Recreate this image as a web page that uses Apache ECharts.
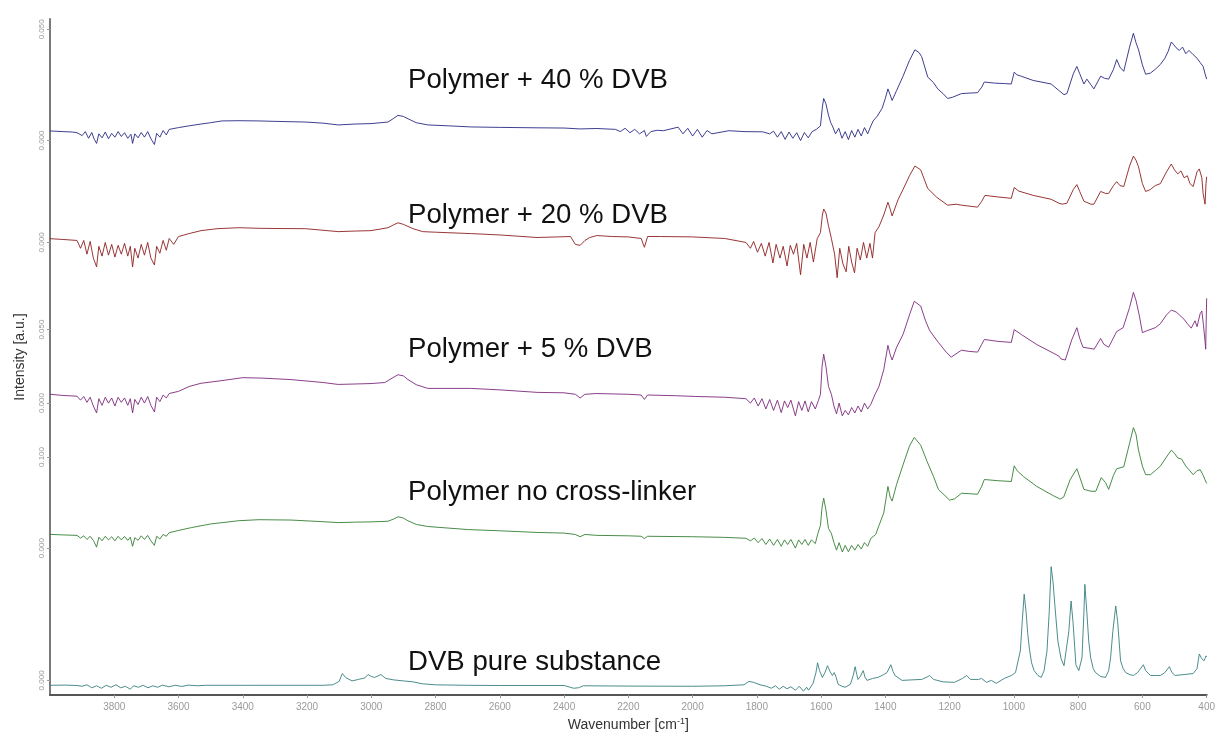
<!DOCTYPE html>
<html>
<head>
<meta charset="utf-8">
<script src="https://cdn.jsdelivr.net/npm/echarts@6/dist/echarts.min.js"></script>
<style>
  html, body { margin: 0; padding: 0; background: #ffffff; }
  #chart { width: 1218px; height: 737px; }
</style>
</head>
<body>
<div id="chart"></div>
<script>
// FTIR spectra, stacked; each trace has its own intensity scale.
const traceNames = [
  'Polymer + 40 % DVB',
  'Polymer + 20 % DVB',
  'Polymer + 5 % DVB',
  'Polymer no cross-linker',
  'DVB pure substance'
];

// [wavenumber cm-1, intensity a.u.]
const dvb40 = [
  [4000,0.0043],[3960,0.0040],[3930,0.0038],[3916,0.0035],[3900,0.0022],[3890,0.0040],[3880,0.0010],[3870,0.0036],
  [3862,0.0005],[3855,-0.0013],[3848,0.0030],[3838,0.0012],[3828,0.0038],[3818,0.0008],[3808,0.0032],[3798,0.0015],
  [3788,0.0040],[3778,0.0018],[3768,0.0035],[3758,0.0010],[3748,0.0028],[3743,-0.0013],[3736,0.0030],[3726,0.0012],
  [3716,0.0036],[3706,0.0015],[3696,0.0040],[3686,0.0008],[3675,-0.0018],[3668,0.0032],[3658,0.0015],[3648,0.0045],
  [3638,0.0025],[3629,0.0050],[3600,0.0058],[3567,0.0066],[3530,0.0074],[3500,0.0080],[3465,0.0088],[3412,0.0089],
  [3350,0.0088],[3300,0.0086],[3205,0.0083],[3150,0.0078],[3103,0.0070],[3050,0.0074],[3001,0.0076],[2948,0.0083],
  [2930,0.0100],[2917,0.0113],[2900,0.0108],[2886,0.0098],[2860,0.0080],[2824,0.0070],[2760,0.0066],[2691,0.0061],
  [2600,0.0059],[2484,0.0057],[2400,0.0056],[2350,0.0052],[2298,0.0054],[2240,0.0050],[2225,0.0040],[2210,0.0055],
  [2195,0.0035],[2180,0.0050],[2165,0.0030],[2150,0.0045],[2144,0.0018],[2130,0.0040],[2110,0.0046],[2091,0.0044],
  [2045,0.0060],[2030,0.0030],[2015,0.0055],[2000,0.0020],[1985,0.0050],[1970,0.0015],[1955,0.0045],[1940,0.0030],
  [1887,0.0044],[1840,0.0040],[1782,0.0039],[1760,0.0030],[1748,0.0042],[1736,0.0015],[1724,0.0040],[1712,0.0005],
  [1700,0.0038],[1688,0.0010],[1676,0.0035],[1664,0.0000],[1652,0.0036],[1640,0.0012],[1628,0.0040],[1615,0.0050],
  [1602,0.0066],[1596,0.0150],[1592,0.0189],[1585,0.0165],[1577,0.0114],[1570,0.0080],[1565,0.0066],[1555,0.0030],
  [1545,0.0055],[1535,0.0010],[1525,0.0040],[1515,0.0004],[1505,0.0045],[1495,0.0015],[1485,0.0050],[1475,0.0020],
  [1465,0.0058],[1455,0.0030],[1445,0.0066],[1438,0.0088],[1425,0.0110],[1410,0.0145],[1400,0.0190],[1392,0.0232],
  [1385,0.0205],[1379,0.0180],[1365,0.0225],[1345,0.0289],[1325,0.0360],[1308,0.0408],[1295,0.0395],[1287,0.0377],
  [1268,0.0285],[1250,0.0260],[1237,0.0232],[1220,0.0210],[1206,0.0189],[1190,0.0195],[1163,0.0211],[1140,0.0213],
  [1113,0.0215],[1100,0.0240],[1092,0.0263],[1060,0.0258],[1030,0.0256],[1008,0.0254],[999,0.0307],[990,0.0295],
  [977,0.0289],[940,0.0270],[884,0.0254],[860,0.0225],[844,0.0206],[835,0.0211],[815,0.0300],[804,0.0333],
  [795,0.0300],[782,0.0254],[773,0.0276],[760,0.0250],[751,0.0232],[730,0.0289],[718,0.0280],[705,0.0276],
  [690,0.0320],[680,0.0364],[670,0.0330],[658,0.0311],[640,0.0420],[628,0.0482],[620,0.0440],[612,0.0408],
  [600,0.0340],[590,0.0298],[575,0.0303],[560,0.0320],[544,0.0342],[530,0.0370],[520,0.0400],[510,0.0443],
  [502,0.0430],[495,0.0417],[485,0.0405],[475,0.0420],[465,0.0390],[455,0.0405],[442,0.0386],[430,0.0370],
  [420,0.0350],[411,0.0333],[405,0.0300],[400,0.0276]
];

const dvb20 = [
  [4000,0.0019],[3960,0.0015],[3916,0.0010],[3905,-0.0030],[3895,0.0010],[3885,-0.0060],[3875,0.0005],[3865,-0.0080],
  [3855,-0.0125],[3848,-0.0020],[3838,-0.0070],[3828,0.0000],[3818,-0.0065],[3808,-0.0010],[3798,-0.0075],[3788,-0.0015],
  [3778,-0.0060],[3768,-0.0005],[3758,-0.0070],[3750,-0.0020],[3743,-0.0125],[3736,-0.0030],[3726,-0.0080],[3716,-0.0010],
  [3706,-0.0065],[3696,0.0000],[3686,-0.0080],[3675,-0.0115],[3668,-0.0020],[3658,-0.0055],[3648,0.0010],[3638,-0.0040],
  [3629,0.0020],[3615,-0.0010],[3600,0.0030],[3567,0.0045],[3530,0.0060],[3480,0.0070],[3412,0.0075],[3350,0.0072],
  [3300,0.0071],[3205,0.0070],[3150,0.0062],[3103,0.0055],[3050,0.0058],[3001,0.0060],[2948,0.0075],[2930,0.0090],
  [2917,0.0100],[2900,0.0092],[2870,0.0070],[2840,0.0055],[2800,0.0052],[2691,0.0045],[2600,0.0038],[2484,0.0025],
  [2420,0.0028],[2380,0.0030],[2365,-0.0010],[2350,-0.0015],[2335,0.0010],[2320,0.0025],[2298,0.0035],[2250,0.0030],
  [2200,0.0028],[2160,0.0020],[2150,-0.0025],[2140,0.0030],[2100,0.0030],[2000,0.0028],[1900,0.0020],[1834,0.0000],
  [1820,-0.0030],[1810,0.0005],[1798,-0.0050],[1786,-0.0005],[1774,-0.0070],[1762,0.0000],[1750,-0.0105],[1740,-0.0010],
  [1728,-0.0080],[1718,-0.0020],[1706,-0.0120],[1696,-0.0015],[1686,-0.0060],[1676,-0.0005],[1664,-0.0165],[1654,-0.0010],
  [1644,-0.0080],[1634,0.0000],[1624,-0.0100],[1612,0.0020],[1602,0.0050],[1596,0.0140],[1592,0.0170],[1585,0.0150],
  [1577,0.0085],[1568,0.0020],[1558,-0.0060],[1550,-0.0180],[1542,-0.0030],[1532,-0.0110],[1522,-0.0150],[1514,-0.0020],
  [1505,-0.0100],[1496,-0.0155],[1488,-0.0030],[1478,-0.0090],[1468,0.0000],[1458,-0.0080],[1448,-0.0005],[1440,-0.0080],
  [1432,0.0050],[1420,0.0080],[1405,0.0140],[1392,0.0205],[1385,0.0170],[1379,0.0135],[1360,0.0220],[1345,0.0270],
  [1325,0.0340],[1308,0.0390],[1290,0.0370],[1268,0.0275],[1240,0.0230],[1206,0.0190],[1180,0.0195],[1163,0.0190],
  [1113,0.0180],[1100,0.0210],[1090,0.0240],[1050,0.0232],[1008,0.0225],[999,0.0280],[985,0.0262],[940,0.0240],
  [884,0.0220],[860,0.0200],[850,0.0195],[835,0.0200],[815,0.0270],[804,0.0295],[795,0.0260],[782,0.0210],
  [760,0.0195],[751,0.0195],[730,0.0260],[715,0.0250],[705,0.0250],[690,0.0290],[680,0.0310],[670,0.0290],
  [658,0.0285],[640,0.0390],[628,0.0440],[620,0.0420],[612,0.0385],[600,0.0300],[590,0.0260],[575,0.0270],
  [560,0.0290],[544,0.0300],[525,0.0360],[510,0.0400],[500,0.0370],[490,0.0350],[480,0.0365],[470,0.0330],
  [460,0.0340],[452,0.0300],[442,0.0285],[430,0.0360],[423,0.0375],[415,0.0330],[411,0.0250],[405,0.0195],
  [402,0.0300],[400,0.0335]
];

const dvb5 = [
  [4000,0.0060],[3960,0.0052],[3916,0.0047],[3905,0.0020],[3895,0.0045],[3885,0.0005],[3875,0.0040],[3865,-0.0020],
  [3855,-0.0067],[3848,0.0030],[3838,-0.0015],[3828,0.0040],[3818,0.0000],[3808,0.0035],[3798,-0.0020],[3788,0.0040],
  [3778,0.0005],[3768,0.0035],[3758,-0.0015],[3750,0.0030],[3743,-0.0067],[3736,0.0025],[3726,-0.0010],[3716,0.0040],
  [3706,0.0000],[3696,0.0045],[3686,-0.0015],[3675,-0.0060],[3668,0.0040],[3658,0.0010],[3648,0.0055],[3638,0.0035],
  [3629,0.0065],[3600,0.0080],[3567,0.0113],[3530,0.0135],[3465,0.0153],[3400,0.0173],[3340,0.0170],[3250,0.0160],
  [3150,0.0140],[3103,0.0127],[3050,0.0130],[3001,0.0133],[2958,0.0140],[2935,0.0170],[2917,0.0193],[2900,0.0185],
  [2886,0.0160],[2860,0.0125],[2824,0.0100],[2691,0.0100],[2600,0.0090],[2484,0.0073],[2400,0.0070],[2365,0.0060],
  [2350,0.0035],[2335,0.0060],[2300,0.0065],[2200,0.0060],[2160,0.0055],[2150,0.0025],[2140,0.0055],[2050,0.0050],
  [1990,0.0045],[1900,0.0040],[1834,0.0030],[1820,0.0000],[1808,0.0035],[1796,-0.0020],[1784,0.0030],[1772,-0.0040],
  [1760,0.0025],[1748,-0.0050],[1736,0.0020],[1724,-0.0065],[1714,0.0015],[1704,-0.0030],[1694,0.0020],[1680,-0.0087],
  [1670,0.0010],[1660,-0.0050],[1650,0.0015],[1640,-0.0060],[1630,0.0010],[1618,-0.0040],[1608,0.0020],[1602,0.0060],
  [1597,0.0250],[1592,0.0333],[1585,0.0250],[1577,0.0113],[1568,0.0060],[1560,-0.0020],[1552,-0.0073],[1544,0.0000],
  [1534,-0.0087],[1525,-0.0050],[1515,-0.0080],[1505,-0.0030],[1495,-0.0067],[1485,-0.0020],[1475,-0.0060],[1465,0.0000],
  [1455,-0.0040],[1445,-0.0007],[1432,0.0060],[1420,0.0113],[1405,0.0227],[1392,0.0393],[1385,0.0330],[1379,0.0293],
  [1365,0.0380],[1345,0.0467],[1325,0.0600],[1310,0.0693],[1290,0.0660],[1275,0.0560],[1262,0.0493],[1235,0.0413],
  [1210,0.0345],[1195,0.0313],[1163,0.0360],[1140,0.0352],[1113,0.0347],[1100,0.0400],[1092,0.0433],[1050,0.0420],
  [1008,0.0413],[999,0.0500],[977,0.0467],[930,0.0400],[860,0.0320],[853,0.0300],[840,0.0293],[820,0.0430],
  [804,0.0513],[795,0.0440],[785,0.0380],[750,0.0367],[730,0.0440],[720,0.0400],[705,0.0380],[680,0.0487],
  [660,0.0513],[640,0.0650],[628,0.0753],[620,0.0700],[610,0.0600],[600,0.0480],[585,0.0493],[560,0.0513],
  [544,0.0540],[525,0.0600],[510,0.0633],[495,0.0620],[485,0.0600],[470,0.0570],[460,0.0540],[448,0.0510],
  [436,0.0560],[430,0.0520],[420,0.0610],[415,0.0627],[410,0.0533],[405,0.0420],[403,0.0367],[401,0.0600],
  [400,0.0713]
];

const noCrossLinker = [
  [4000,0.0151],[3960,0.0145],[3916,0.0140],[3905,0.0110],[3895,0.0135],[3885,0.0095],[3875,0.0130],[3865,0.0085],
  [3855,0.0011],[3848,0.0120],[3838,0.0080],[3828,0.0130],[3818,0.0090],[3808,0.0125],[3798,0.0080],[3788,0.0130],
  [3778,0.0090],[3768,0.0128],[3758,0.0085],[3750,0.0120],[3743,0.0020],[3736,0.0115],[3726,0.0085],[3716,0.0135],
  [3706,0.0095],[3696,0.0140],[3686,0.0080],[3675,0.0030],[3668,0.0130],[3658,0.0100],[3648,0.0150],[3638,0.0130],
  [3629,0.0170],[3600,0.0194],[3560,0.0225],[3500,0.0265],[3412,0.0301],[3350,0.0312],[3250,0.0308],[3150,0.0290],
  [3103,0.0280],[3050,0.0285],[3001,0.0288],[2948,0.0295],[2930,0.0320],[2917,0.0344],[2900,0.0330],[2886,0.0300],
  [2860,0.0260],[2824,0.0237],[2700,0.0204],[2600,0.0190],[2484,0.0172],[2400,0.0165],[2365,0.0150],[2350,0.0125],
  [2335,0.0150],[2298,0.0140],[2200,0.0135],[2160,0.0130],[2150,0.0105],[2140,0.0130],[2000,0.0125],[1900,0.0118],
  [1834,0.0108],[1820,0.0080],[1808,0.0110],[1796,0.0060],[1784,0.0105],[1772,0.0040],[1760,0.0100],[1748,0.0030],
  [1736,0.0095],[1724,0.0020],[1714,0.0090],[1704,0.0040],[1694,0.0095],[1680,0.0000],[1670,0.0090],[1660,0.0040],
  [1650,0.0095],[1640,0.0030],[1630,0.0090],[1618,0.0050],[1610,0.0160],[1602,0.0250],[1597,0.0450],[1592,0.0548],
  [1585,0.0420],[1577,0.0215],[1568,0.0161],[1560,0.0060],[1552,-0.0022],[1544,0.0060],[1534,-0.0043],[1525,0.0030],
  [1515,-0.0040],[1505,0.0030],[1495,-0.0022],[1485,0.0040],[1475,-0.0010],[1465,0.0060],[1455,0.0020],[1445,0.0108],
  [1430,0.0150],[1420,0.0247],[1405,0.0387],[1392,0.0677],[1385,0.0560],[1379,0.0516],[1365,0.0700],[1345,0.0914],
  [1325,0.1120],[1310,0.1215],[1290,0.1129],[1270,0.0950],[1250,0.0785],[1235,0.0645],[1200,0.0527],[1185,0.0540],
  [1163,0.0602],[1140,0.0598],[1113,0.0591],[1100,0.0680],[1092,0.0753],[1050,0.0740],[1008,0.0731],[999,0.0903],
  [990,0.0850],[970,0.0785],[930,0.0680],[880,0.0580],[856,0.0538],[845,0.0560],[825,0.0750],[804,0.0871],
  [795,0.0780],[782,0.0645],[760,0.0624],[745,0.0624],[728,0.0774],[715,0.0720],[705,0.0645],[690,0.0800],
  [680,0.0871],[658,0.0892],[640,0.1150],[628,0.1322],[620,0.1250],[612,0.1075],[600,0.0900],[590,0.0806],
  [575,0.0806],[560,0.0850],[544,0.0900],[525,0.1000],[510,0.1075],[500,0.1040],[490,0.0990],[478,0.0978],
  [465,0.0900],[455,0.0860],[442,0.0806],[430,0.0850],[420,0.0860],[411,0.0800],[405,0.0750],[400,0.0710]
];

const dvbPure = [
  [4000,-0.0050],[3950,-0.0048],[3916,-0.0052],[3900,-0.0060],[3885,-0.0045],[3870,-0.0075],[3855,-0.0055],[3840,-0.0080],
  [3825,-0.0050],[3810,-0.0070],[3795,-0.0045],[3780,-0.0075],[3765,-0.0060],[3750,-0.0090],[3740,-0.0055],[3725,-0.0070],
  [3710,-0.0050],[3695,-0.0075],[3680,-0.0055],[3665,-0.0070],[3650,-0.0048],[3630,-0.0065],[3610,-0.0050],[3590,-0.0062],
  [3570,-0.0048],[3540,-0.0055],[3517,-0.0050],[3400,-0.0050],[3300,-0.0050],[3150,-0.0050],[3120,-0.0045],[3100,-0.0010],
  [3090,0.0070],[3080,0.0030],[3060,-0.0005],[3040,0.0010],[3020,0.0025],[3010,0.0060],[3000,0.0040],[2990,0.0030],
  [2970,0.0060],[2955,0.0020],[2930,0.0005],[2900,-0.0005],[2870,-0.0015],[2840,-0.0035],[2800,-0.0045],[2700,-0.0050],
  [2600,-0.0052],[2400,-0.0052],[2370,-0.0080],[2355,-0.0075],[2340,-0.0055],[2200,-0.0058],[2000,-0.0060],[1900,-0.0055],
  [1840,-0.0045],[1825,-0.0010],[1810,-0.0020],[1790,-0.0045],[1770,-0.0060],[1755,-0.0080],[1742,-0.0055],[1730,-0.0090],
  [1718,-0.0060],[1706,-0.0085],[1694,-0.0065],[1680,-0.0100],[1668,-0.0060],[1655,-0.0110],[1645,-0.0070],[1639,-0.0100],
  [1625,-0.0030],[1616,0.0080],[1611,0.0180],[1605,0.0100],[1596,0.0030],[1588,0.0080],[1580,0.0150],[1572,0.0090],
  [1565,0.0050],[1559,0.0080],[1553,0.0030],[1547,-0.0040],[1535,-0.0060],[1525,-0.0070],[1509,-0.0040],[1500,0.0050],
  [1494,0.0140],[1489,0.0060],[1485,0.0010],[1478,0.0040],[1469,0.0100],[1463,0.0030],[1457,0.0000],[1440,0.0020],
  [1423,0.0030],[1405,0.0060],[1395,0.0080],[1383,0.0160],[1376,0.0090],[1370,0.0050],[1348,0.0000],[1320,0.0005],
  [1287,0.0010],[1270,0.0035],[1262,0.0050],[1250,0.0010],[1246,-0.0010],[1220,-0.0015],[1185,-0.0020],[1160,0.0020],
  [1147,0.0050],[1135,0.0010],[1129,-0.0010],[1110,0.0010],[1101,0.0020],[1085,-0.0020],[1070,0.0000],[1055,-0.0030],
  [1030,0.0020],[1008,0.0050],[995,0.0080],[990,0.0100],[980,0.0300],[974,0.0600],[968,0.0880],[962,0.0700],
  [957,0.0480],[952,0.0330],[945,0.0180],[937,0.0100],[925,0.0050],[915,0.0030],[906,0.0100],[897,0.0300],
  [890,0.0700],[884,0.1160],[878,0.1000],[872,0.0750],[863,0.0400],[853,0.0220],[844,0.0150],[838,0.0130],
  [829,0.0500],[822,0.0810],[816,0.0600],[807,0.0160],[798,0.0100],[788,0.0230],[782,0.0700],[779,0.0980],
  [773,0.0700],[767,0.0400],[761,0.0230],[753,0.0120],[746,0.0080],[730,0.0040],[715,0.0030],[705,0.0100],
  [699,0.0230],[692,0.0500],[683,0.0760],[677,0.0600],[668,0.0200],[660,0.0120],[652,0.0080],[640,0.0060],
  [628,0.0050],[615,0.0080],[597,0.0160],[590,0.0100],[575,0.0050],[560,0.0050],[544,0.0050],[530,0.0080],
  [516,0.0140],[508,0.0080],[498,0.0050],[470,0.0060],[442,0.0070],[430,0.0120],[423,0.0270],[415,0.0220],
  [408,0.0200],[402,0.0250],[400,0.0240]
];

// Intensity tick values shown next to each trace
const ticks40 = [0, 0.05];
const ticks20 = [0];
const ticks5 = [0, 0.05];
const ticksNone = [0, 0.1];
const ticksPure = [0];

const spectra = [dvb40, dvb20, dvb5, noCrossLinker, dvbPure];
const tickSets = [ticks40, ticks20, ticks5, ticksNone, ticksPure];
const lineColors = ['#2a2a85', '#8e2020', '#7d2a7d', '#357f35', '#3a7f80'];
// vertical window of each trace's own intensity axis
const yRanges = [
  [-0.24934, 0.054626],
  [-0.231, 0.114],
  [-0.19867, 0.26133],
  [-0.16129, 0.58065],
  [-0.015, 0.675]
];
const labelY = [80, 215, 349, 492, 662];

const FONT = '"Liberation Sans", Arial, sans-serif';
const chart = echarts.init(document.getElementById('chart'), null, { renderer: 'canvas' });

const yAxes = spectra.map((_, i) => ({
  type: 'value',
  gridIndex: 0,
  position: 'left',
  offset: 0,
  min: yRanges[i][0],
  max: yRanges[i][1],
  name: i === 0 ? 'Intensity [a.u.]' : '',
  nameLocation: 'middle',
  nameGap: 23,
  nameTextStyle: { fontFamily: FONT, fontSize: 14, color: '#333' },
  axisLine: { show: i === 0, lineStyle: { color: '#7a7a7a', width: 2 } },
  axisTick: { show: true, length: 3, customValues: tickSets[i], lineStyle: { color: '#9a9a9a' } },
  axisLabel: {
    show: true,
    customValues: tickSets[i],
    rotate: 90,
    margin: 4,
    color: '#9a9a9a',
    fontSize: 8,
    fontFamily: FONT,
    formatter: v => v.toFixed(3)
  },
  splitLine: { show: false }
}));

const option = {
  backgroundColor: '#ffffff',
  animation: false,
  grid: { left: 50, right: 4, top: 19, bottom: 28, containLabel: false },
  xAxis: {
    type: 'value',
    inverse: true,
    min: 400,
    max: 4000,
    interval: 200,
    name: '{a|Wavenumber [cm}{s|-1}{a|]}',
    nameLocation: 'middle',
    nameGap: 21,
    nameTextStyle: {
      rich: {
        a: { fontFamily: FONT, fontSize: 14, color: '#333' },
        s: { fontFamily: FONT, fontSize: 9, color: '#333', padding: [0, 0, 7, 0] }
      }
    },
    axisLine: { show: true, onZero: false, lineStyle: { color: '#555', width: 2 } },
    axisTick: { show: true, length: 3, lineStyle: { color: '#999' } },
    axisLabel: {
      color: '#9a9a9a',
      fontSize: 10,
      margin: 7,
      fontFamily: FONT,
      showMaxLabel: false,
      formatter: v => String(v)
    },
    splitLine: { show: false }
  },
  yAxis: yAxes,
  series: spectra.map((data, i) => ({
    type: 'line',
    name: traceNames[i],
    xAxisIndex: 0,
    yAxisIndex: i,
    data: data,
    showSymbol: false,
    symbol: 'none',
    lineStyle: { color: lineColors[i], width: 1, opacity: 0.9 },
    clip: true
  })),
  graphic: traceNames.map((t, i) => ({
    type: 'text',
    x: 408,
    y: labelY[i],
    silent: true,
    style: {
      text: t,
      fill: '#111',
      font: '27.6px ' + FONT,
      verticalAlign: 'middle',
      align: 'left'
    }
  }))
};

chart.setOption(option);
</script>
</body>
</html>
